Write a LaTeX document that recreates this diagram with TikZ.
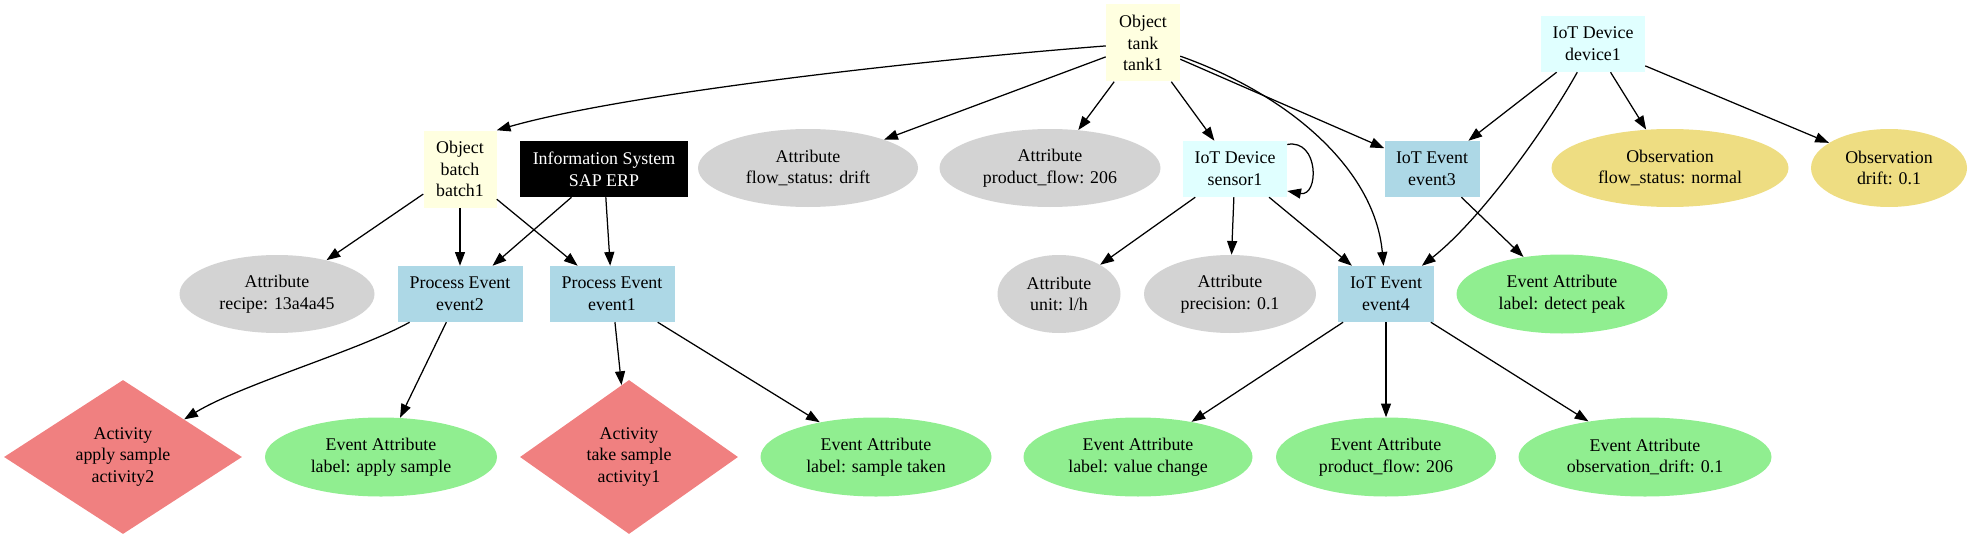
\documentclass[tikz,border=0pt]{standalone}
\usepackage{fontspec}
\setmainfont{Liberation Serif}
\usetikzlibrary{shapes.geometric, arrows.meta}

\definecolor{lightyellow}{HTML}{FFFFE0}
\definecolor{lightcyan}{HTML}{E0FFFF}
\definecolor{lightblue}{HTML}{ADD8E6}
\definecolor{lightgray}{HTML}{D3D3D3}
\definecolor{lightgreen}{HTML}{90EE90}
\definecolor{lightgoldenrod}{HTML}{EEDD82}
\definecolor{lightcoral}{HTML}{F08080}

\begin{document}
\begin{tikzpicture}[x=0.8pt, y=-0.8pt, every node/.style={font=\fontsize{14.3}{17.4}\selectfont}]
    \tikzstyle{box} = [rectangle, inner sep=0pt, minimum height=44.8pt, align=center]
    \tikzstyle{object} = [box, fill=lightyellow, minimum height=61.6pt]
    \tikzstyle{device} = [box, fill=lightcyan]
    \tikzstyle{event} = [box, fill=lightblue]
    \tikzstyle{system} = [box, fill=black, text=white]
    \tikzstyle{attribute} = [ellipse, inner sep=0pt, minimum height=62.4pt, align=center, fill=lightgray]
    \tikzstyle{evattr} = [attribute, fill=lightgreen, minimum height=63.2pt]
    \tikzstyle{observation} = [attribute, fill=lightgoldenrod]
    \tikzstyle{activity} = [diamond, inner sep=0pt, aspect=1.55, minimum height=123.2pt, align=center, fill=lightcoral]
    \tikzstyle{arrow} = [->, >={Triangle[length=11pt, width=8pt]}, line width=1pt]

    \useasboundingbox (0,0) rectangle (1972,539);

    \node[object, minimum width=59.2pt] (tank1) at (1143, 43) {Object\\tank\\tank1};
    \node[device, minimum width=83.2pt] (device1) at (1593, 44) {IoT Device\\device1};

    \node[object, minimum width=58.4pt] (batch1) at (460, 169) {Object\\batch\\batch1};
    \node[system, minimum width=134.4pt] (sap) at (604, 169) {Information System\\SAP ERP};
    \node[attribute, minimum width=176pt] (flowstatus) at (808, 168) {Attribute\\flow\_status: drift};
    \node[attribute, minimum width=176.8pt] (productflow) at (1050, 168) {Attribute\\product\_flow: 206};
    \node[device, minimum width=83.2pt] (sensor1) at (1235, 169) {IoT Device\\sensor1};
    \node[event, minimum width=76pt] (event3) at (1432, 169) {IoT Event\\event3};
    \node[observation, minimum width=189.6pt] (obsnormal) at (1670, 168) {Observation\\flow\_status: normal};
    \node[observation, minimum width=124.8pt] (obsdrift) at (1889, 168) {Observation\\drift: 0.1};

    \node[attribute, minimum width=156pt] (recipe) at (277, 294) {Attribute\\recipe: 13a4a45};
    \node[event, minimum width=100pt] (event2) at (460, 294) {Process Event\\event2};
    \node[event, minimum width=100pt] (event1) at (612, 294) {Process Event\\event1};
    \node[attribute, minimum width=98.4pt] (unit) at (1059, 294) {Attribute\\unit: l/h};
    \node[attribute, minimum width=137.6pt] (precision) at (1230, 294) {Attribute\\precision: 0.1};
    \node[event, minimum width=76.8pt] (event4) at (1386, 294) {IoT Event\\event4};
    \node[evattr, minimum width=168.8pt] (detectpeak) at (1562, 294) {Event Attribute\\label: detect peak};

    \node[activity, minimum width=190.4pt] (activity2) at (123, 457) {Activity\\apply sample\\activity2};
    \node[evattr, minimum width=185.6pt] (applysample) at (381, 457) {Event Attribute\\label: apply sample};
    \node[activity, minimum width=174.4pt] (activity1) at (629, 457) {Activity\\take sample\\activity1};
    \node[evattr, minimum width=184.8pt] (sampletaken) at (876, 457) {Event Attribute\\label: sample taken};
    \node[evattr, minimum width=183.2pt] (valuechange) at (1138, 457) {Event Attribute\\label: value change};
    \node[evattr, minimum width=176pt] (flowvalue) at (1386, 457) {Event Attribute\\product\_flow: 206};
    \node[evattr, minimum width=202.4pt] (driftvalue) at (1645, 457) {Event Attribute\\observation\_drift: 0.1};

    \draw[arrow] (tank1) .. controls (900, 62) and (620, 95) .. (batch1.north east);
    \draw[arrow] (tank1) -- (flowstatus);
    \draw[arrow] (tank1) -- (productflow);
    \draw[arrow] (tank1) -- (sensor1);
    \draw[arrow] (tank1) -- (event3);
    \draw[arrow] (tank1) .. controls (1290, 95) and (1375, 170) .. (event4);

    \draw[arrow] (device1) -- (event3);
    \draw[arrow] (device1) .. controls (1545, 130) and (1480, 220) .. (event4);
    \draw[arrow] (device1) -- (obsnormal);
    \draw[arrow] (device1) -- (obsdrift);

    \draw[arrow] (batch1) -- (recipe);
    \draw[arrow] (batch1) -- (event2);
    \draw[arrow] (batch1) -- (event1);
    \draw[arrow] (sap) -- (event2);
    \draw[arrow] (sap) -- (event1);

    \draw[arrow] ([yshift=-3pt]sensor1.north east) .. controls +(32, -6) and +(32, 6) .. ([yshift=5pt]sensor1.south east);
    \draw[arrow] (sensor1) -- (unit);
    \draw[arrow] (sensor1) -- (precision);
    \draw[arrow] (sensor1) -- (event4);
    \draw[arrow] (event3) -- (detectpeak);

    \draw[arrow] (event2) .. controls (360, 350) and (240, 385) .. (activity2);
    \draw[arrow] (event2) -- (applysample);
    \draw[arrow] (event1) -- (activity1);
    \draw[arrow] (event1) -- (sampletaken);
    \draw[arrow] (event4) -- (valuechange);
    \draw[arrow] (event4) -- (flowvalue);
    \draw[arrow] (event4) -- (driftvalue);
\end{tikzpicture}
\end{document}
